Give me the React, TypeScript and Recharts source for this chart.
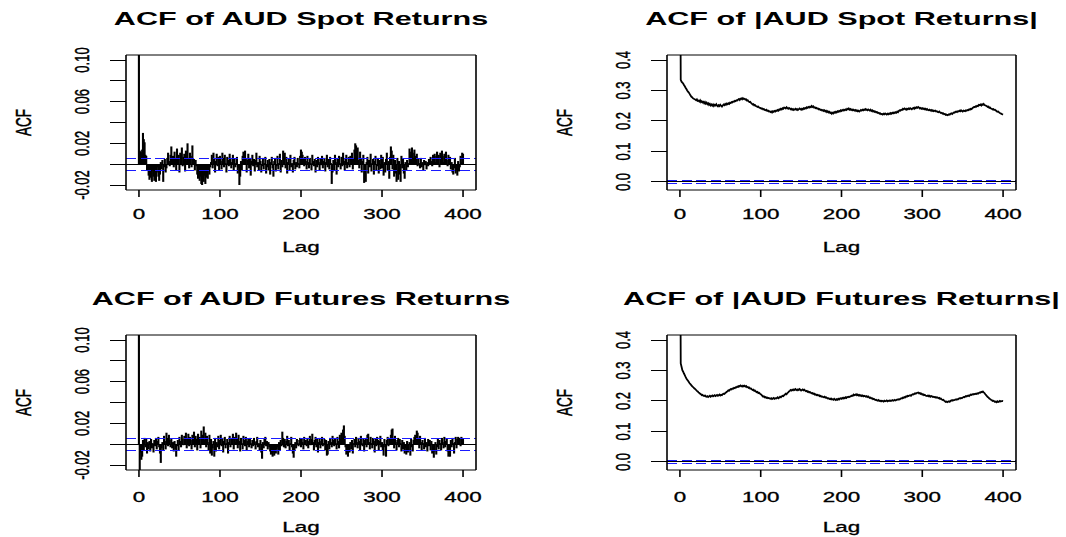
import React from "react";
import { ComposedChart, XAxis, YAxis, Bar, Line, ReferenceLine } from "recharts";

// Sample ACF by lag (0..400), stored in units of 0.001
const spotReturnsAcf: number[] = [
  1000, 13, 12, 11, 14, 30, 24, 21, 9, 8, -6, -4, -11, -15, -9, -13, -17, -6, -12, -16,
  -14, -17, -8, -3, -12, -16, -10, 2, -5, 4, -17, -3, 5, -8, -4, 6, 11, 3, -2, 9,
  17, 4, 8, -3, 12, 6, -6, 15, 2, 9, -8, 11, 5, 16, -2, 7, 10, -7, 13, 3,
  20, 6, -4, 11, 8, -3, 18, 2, 5, -6, 4, -2, -10, -14, -8, -16, -12, -19, -20, -15,
  -17, -11, -19, -13, -8, -14, -6, -10, -3, 2, 9, -4, 11, 5, -8, 3, 10, -2, 7, -6,
  8, 3, -5, 11, 6, -3, 9, 1, -8, 7, 4, -2, 10, 6, -4, 2, 9, -6, 5, -3,
  1, 7, -9, -4, -20, -12, 3, -6, 8, 12, 2, 13, 5, -8, 4, 10, -4, 6, -11, 3,
  9, -2, 5, -7, 4, 11, -3, 2, -6, 8, 3, -8, -2, 6, -5, 1, 7, -9, -3, 4,
  -6, 5, -10, 2, 7, -4, -12, 3, 6, -7, -2, 8, -5, 1, 10, -8, 4, -3, 13, 6,
  11, -4, 7, -9, 2, 5, -6, 9, -3, 1, -8, 4, 7, -5, 2, -3, 6, 1, -4, 8,
  14, 12, 9, 5, -2, 7, 3, -5, 8, 2, -4, 6, 1, -6, 9, 3, -2, 5, -8, 4,
  -3, 7, 2, -6, 5, -1, 8, -4, 3, 6, -7, 2, 9, -3, 5, -5, 7, 1, -19, -8,
  4, -6, 9, 2, -10, 6, -3, 8, 1, -5, 7, -2, 11, 3, -6, 5, 9, -4, 2, 7,
  -3, 8, 1, 11, -5, 6, 14, 20, 18, 9, 16, 4, -4, 12, 6, -8, 3, 9, -18, -6,
  -17, 2, 7, -9, 4, -3, 10, -7, 1, 5, -10, 3, 8, -6, -2, 6, -9, 4, -5, 9,
  -4, 7, -11, 2, -8, 5, 11, -6, 3, -14, 7, 17, 13, -5, 9, -12, 4, -9, -17, 6,
  -15, 3, -10, -17, 8, -4, 5, -9, -14, 2, -6, 4, -3, 1, 15, 9, 12, 16, 11, 6,
  14, 8, 3, 10, -2, 5, 1, -4, 6, -3, 2, -6, 4, -1, 3, -5, 2, -2, 5, 1,
  7, 3, -2, 9, 5, 10, 2, 8, 12, 4, 9, -3, 11, 6, 13, 8, 2, 10, 5, 12,
  4, -2, 9, 3, 7, -5, 2, -8, -10, -4, 6, -9, -6, -11, 3, -7, -3, 8, 2, 11,
  10,
];

const spotAbsAcf: number[] = [
  1000, 335, 329, 326, 323, 318, 314, 309, 305, 300, 296, 293, 289, 284, 280, 278, 275, 273, 272, 270,
  268, 271, 266, 267, 264, 268, 262, 265, 261, 263, 258, 262, 257, 260, 255, 258, 253, 256, 251, 254,
  250, 254, 249, 253, 251, 255, 250, 248, 252, 249, 253, 250, 247, 251, 254, 252, 256, 253, 257, 255,
  258, 256, 260, 259, 262, 261, 264, 263, 266, 265, 268, 267, 270, 272, 269, 273, 274, 271, 275, 272,
  273, 270, 271, 267, 268, 264, 262, 263, 259, 257, 254, 255, 251, 252, 249, 248, 246, 247, 244, 243,
  242, 240, 241, 238, 239, 236, 235, 237, 233, 234, 231, 232, 229, 231, 228, 232, 230, 233, 231, 234,
  233, 236, 234, 238, 237, 240, 238, 242, 240, 244, 243, 241, 245, 242, 240, 243, 241, 238, 240, 237,
  239, 236, 238, 240, 237, 239, 236, 238, 241, 239, 237, 240, 238, 242, 240, 243, 241, 245, 243, 246,
  244, 247, 245, 249, 246, 248, 244, 245, 242, 243, 240, 241, 238, 239, 236, 237, 234, 236, 233, 235,
  231, 233, 229, 232, 228, 230, 226, 228, 224, 227, 225, 229, 227, 230, 228, 232, 230, 233, 231, 235,
  233, 236, 234, 237, 235, 238, 236, 240, 238, 241, 237, 239, 236, 238, 235, 237, 234, 236, 233, 235,
  232, 234, 231, 233, 236, 234, 237, 235, 238, 236, 239, 237, 235, 238, 236, 234, 237, 233, 235, 231,
  233, 230, 231, 228, 229, 226, 227, 224, 225, 222, 223, 221, 224, 222, 225, 223, 221, 224, 222, 225,
  223, 226, 224, 227, 225, 228, 226, 229, 227, 231, 229, 233, 235, 234, 237, 236, 240, 238, 241, 239,
  237, 240, 238, 241, 239, 242, 240, 238, 241, 243, 240, 244, 242, 245, 243, 246, 244, 241, 243, 240,
  242, 239, 241, 238, 240, 237, 239, 236, 235, 237, 234, 236, 233, 235, 232, 233, 234, 231, 232, 230,
  229, 231, 228, 226, 227, 224, 225, 222, 223, 220, 221, 219, 220, 222, 221, 224, 225, 223, 226, 228,
  227, 230, 231, 229, 232, 231, 234, 232, 235, 233, 231, 234, 233, 232, 235, 234, 236, 235, 238, 237,
  240, 239, 242, 244, 246, 245, 248, 247, 250, 249, 253, 252, 254, 251, 255, 253, 256, 252, 251, 250,
  248, 246, 247, 243, 244, 241, 240, 238, 239, 236, 237, 235, 232, 230, 231, 228, 226, 225, 223, 222,
  221,
];

const futuresReturnsAcf: number[] = [
  1000, -26, -8, -15, -12, 4, -6, 6, -3, 5, -9, 2, -5, 3, -7, 5, -4, 1, -8, 4,
  -2, 6, -5, 3, 7, -3, -9, -18, -4, 2, -6, 8, 3, -5, 11, 6, -2, 9, 4, -3,
  5, -4, 2, -7, 3, -5, -12, -2, 4, -6, 7, 3, -3, 9, 5, -1, 8, 2, 11, -4,
  6, 10, -2, 7, 4, -5, 9, 3, 12, -3, 8, 5, -6, 10, 2, 7, -4, 13, 6, 9,
  17, 4, 11, -3, 8, 2, -6, 9, -9, 5, -11, -4, 3, -12, 6, -7, 2, -3, 8, -5,
  4, 9, -2, 6, -8, 3, 7, -4, 1, 5, -9, 2, 8, -3, 6, 4, 10, -5, 7, 2,
  11, 5, -4, 9, 3, -7, 6, 1, -5, 8, 4, -2, 7, -6, 3, 5, -3, 6, 1, -4,
  4, -2, 6, 2, -5, 3, 7, -3, 1, -6, 4, -8, -14, 2, -4, 5, 7, -2, 3, -5,
  2, -3, -7, -10, -4, -12, -8, -11, -6, -9, -5, -3, -10, 2, -6, 4, -2, 12, 6, -3,
  5, -4, 3, 8, -2, 4, -6, 1, 7, -3, -9, -13, -6, 2, -4, 5, 1, -2, 4, 6,
  -3, 5, 2, -5, 7, 1, 4, -2, 6, -4, 3, 8, -1, 5, 10, 2, -6, 4, 7, -3,
  5, -8, 2, 6, -4, 3, 7, -2, 1, 5, -6, 4, -11, -10, 3, -5, 6, 2, -3, 8,
  4, -2, 6, 1, -5, 7, 3, -4, 9, 5, 11, 6, 14, 18, 8, -3, -10, -6, -12, -4,
  -8, 2, -5, 4, -9, 1, 5, -3, 7, 2, -4, 6, 3, -6, 8, 1, -2, 5, -7, 4,
  6, -3, 9, 10, 2, -5, 7, 1, -4, 6, 3, -8, 5, -2, 7, 4, -6, 3, 8, -3,
  2, -6, -11, 5, -3, -12, 4, 7, -2, 6, 3, 9, 14, 15, 5, -4, 8, 2, -6, 4,
  6, -3, 5, 1, -7, 4, -5, 2, -9, -4, -10, 3, -8, -6, 2, -11, 5, -3, -7, 4,
  7, 9, 3, 13, 11, 5, -4, 8, 2, -6, 4, 1, -5, 6, -3, 2, -7, 5, -2, 4,
  -6, 3, -9, -4, -13, -7, 2, -10, -3, 5, -5, 4, 1, -6, 6, 2, -4, 7, -3, 3,
  5, -7, -12, -5, -12, 4, -3, 6, 1, -9, 2, 7, -4, 5, 7, 3, 6, -2, 7, 6,
  5,
];

const futuresAbsAcf: number[] = [
  1000, 323, 312, 301, 296, 290, 285, 279, 274, 270, 266, 262, 258, 255, 252, 249, 246, 244, 241, 239,
  236, 233, 231, 228, 226, 224, 222, 219, 220, 217, 216, 218, 215, 214, 216, 213, 215, 217, 214, 216,
  218, 215, 217, 219, 216, 218, 220, 217, 219, 221, 218, 220, 219, 222, 224, 223, 226, 228, 230, 232,
  235, 234, 237, 239, 238, 241, 240, 243, 242, 245, 244, 247, 246, 249, 248, 251, 249, 247, 250, 248,
  250, 247, 249, 245, 246, 243, 244, 240, 241, 238, 236, 237, 233, 234, 231, 229, 230, 226, 227, 224,
  222, 220, 217, 214, 215, 212, 213, 210, 211, 209, 210, 208, 207, 209, 206, 208, 210, 207, 209, 208,
  210, 212, 209, 211, 214, 212, 215, 217, 216, 219, 221, 224, 222, 226, 228, 231, 233, 236, 234, 237,
  235, 238, 236, 239, 237, 235, 238, 236, 239, 237, 234, 236, 238, 235, 237, 234, 232, 233, 230, 231,
  228, 229, 227, 225, 226, 223, 224, 221, 222, 219, 220, 218, 219, 216, 217, 214, 215, 213, 212, 214,
  211, 212, 210, 208, 209, 207, 206, 208, 205, 206, 204, 207, 205, 203, 206, 204, 207, 205, 208, 209,
  207, 210, 208, 211, 209, 212, 210, 213, 212, 214, 213, 215, 216, 218, 217, 221, 219, 220, 222, 219,
  221, 218, 220, 217, 219, 216, 218, 215, 217, 216, 214, 216, 213, 215, 212, 210, 211, 208, 209, 206,
  207, 205, 203, 204, 202, 201, 203, 200, 201, 199, 201, 200, 198, 201, 199, 200, 202, 199, 201, 200,
  202, 200, 201, 203, 201, 202, 204, 202, 203, 205, 204, 206, 205, 207, 209, 208, 211, 210, 213, 212,
  215, 214, 217, 216, 218, 219, 217, 220, 222, 221, 223, 225, 224, 226, 227, 228, 225, 226, 223, 224,
  221, 222, 219, 220, 218, 217, 216, 218, 215, 217, 214, 216, 215, 213, 214, 212, 213, 211, 212, 211,
  209, 210, 207, 208, 205, 203, 204, 201, 199, 197, 198, 196, 198, 199, 197, 200, 202, 201, 203, 202,
  203, 205, 204, 206, 205, 207, 209, 208, 210, 209, 211, 213, 212, 214, 216, 215, 217, 218, 216, 219,
  221, 220, 222, 221, 223, 222, 224, 223, 225, 224, 226, 228, 227, 230, 229, 231, 228, 226, 222, 219,
  216, 213, 211, 208, 206, 204, 203, 200, 201, 199, 197, 198, 196, 199, 197, 198, 200, 198, 199, 200,
  199,
];

const lagTicks = [0, 100, 200, 300, 400];
const returnTicks = [-0.02, 0, 0.02, 0.04, 0.06, 0.08, 0.1];
const returnTickLabels = [-0.02, 0.02, 0.06, 0.1];
const absTicks = [0, 0.1, 0.2, 0.3, 0.4];

// 95% bounds, +/- 1.96 / sqrt(n)
const CONF = 0.0059;

const LAG_DOMAIN: [number, number] = [-16, 416];
const RETURN_DOMAIN: [number, number] = [-0.0248, 0.1048];
const ABS_DOMAIN: [number, number] = [-0.0264, 0.4164];

const INK = "#000";
const BLUE = "#1a1aff";
const FONT = '"Liberation Sans", Arial, Helvetica, sans-serif';
const SX = 1.6;

type STextProps = {
  x: number;
  y: number;
  size?: number;
  bold?: boolean;
  vertical?: boolean;
  sx?: number;
  children: React.ReactNode;
};

// text widened horizontally, like the rest of the device output
function SText({ x, y, size = 14, bold = false, vertical = false, sx = SX, children }: STextProps) {
  const t = `translate(${x},${y}) scale(${sx},1)${vertical ? " rotate(-90)" : ""}`;
  return (
    <text
      transform={t}
      textAnchor="middle"
      dy="0.35em"
      fontSize={size}
      fontWeight={bold ? 700 : 400}
      fontFamily={FONT}
      fill={INK}
      stroke={bold ? "none" : INK}
      strokeWidth={bold ? 0 : 0.3}
    >
      {children}
    </text>
  );
}

function Stick(p: any) {
  if (p.x == null || p.y == null) return <g />;
  const cx = p.x + (p.width || 0) / 2;
  return <line x1={cx} x2={cx} y1={p.y} y2={p.y + p.height} stroke={INK} strokeWidth={2.1} />;
}

type Box = { l: number; t: number; r: number; b: number };

type PanelProps = {
  title: string;
  values: number[];
  kind: "bars" | "line";
  left: number;
  top: number;
  width: number;
  height: number;
  box: Box;
  xTickGap: number;
};

function AcfPanel({ title, values, kind, left, top, width, height, box, xTickGap }: PanelProps) {
  const rows = values.map((v, lag) => ({ lag, acf: v / 1000 }));
  const isBars = kind === "bars";
  const yDomain = isBars ? RETURN_DOMAIN : ABS_DOMAIN;
  const yTicks = isBars ? returnTicks : absTicks;
  const xAxisH = 40;

  const yTick = (p: any) => {
    const v = p.payload.value as number;
    if (isBars && !returnTickLabels.some((t) => Math.abs(t - v) < 1e-9)) return <g />;
    return (
      <SText x={p.x} y={p.y} size={13} vertical>
        {isBars ? v.toFixed(2) : v.toFixed(1)}
      </SText>
    );
  };

  const xTick = (p: any) => (
    <SText x={p.x} y={p.y} size={14}>
      {p.payload.value}
    </SText>
  );

  return (
    <div style={{ position: "absolute", left, top, width, height }}>
      <ComposedChart
        width={width}
        height={height}
        data={rows}
        margin={{ top: box.t, right: width - box.r, bottom: height - box.b - xAxisH, left: 0 }}
      >
        <XAxis
          type="number"
          dataKey="lag"
          domain={LAG_DOMAIN}
          ticks={lagTicks}
          allowDataOverflow
          interval={0}
          height={xAxisH}
          axisLine={false}
          tickSize={7}
          tickMargin={xTickGap}
          tickLine={{ stroke: INK, strokeWidth: 1.6 }}
          tick={xTick}
        />
        <YAxis
          type="number"
          domain={yDomain}
          ticks={yTicks}
          allowDataOverflow
          interval={0}
          width={box.l}
          axisLine={false}
          tickSize={16}
          tickMargin={28}
          tickLine={{ stroke: INK, strokeWidth: 1, shapeRendering: "crispEdges" }}
          tick={yTick}
        />
        <ReferenceLine y={0} stroke={INK} strokeWidth={1} shapeRendering="crispEdges" />
        <ReferenceLine
          y={CONF}
          stroke={BLUE}
          strokeWidth={1}
          strokeDasharray="10 4.5"
          shapeRendering="crispEdges"
        />
        <ReferenceLine
          y={-CONF}
          stroke={BLUE}
          strokeWidth={1}
          strokeDasharray="10 4.5"
          shapeRendering="crispEdges"
        />
        {isBars ? (
          <Bar dataKey="acf" barSize={2} shape={Stick} isAnimationActive={false} />
        ) : (
          <Line
            type="linear"
            dataKey="acf"
            stroke={INK}
            strokeWidth={1.8}
            dot={false}
            isAnimationActive={false}
          />
        )}
        {/* plot frame */}
        <ReferenceLine x={LAG_DOMAIN[0]} stroke={INK} strokeWidth={1.6} ifOverflow="visible" />
        <ReferenceLine x={LAG_DOMAIN[1]} stroke={INK} strokeWidth={1.6} ifOverflow="visible" />
        <ReferenceLine y={yDomain[0]} stroke={INK} strokeWidth={1} ifOverflow="visible" />
        <ReferenceLine y={yDomain[1]} stroke={INK} strokeWidth={1} ifOverflow="visible" />
      </ComposedChart>
      <svg
        width={width}
        height={height}
        style={{ position: "absolute", left: 0, top: 0, pointerEvents: "none" }}
      >
        <SText x={(box.l + box.r) / 2} y={box.t - 36.5} size={18} bold sx={1.7}>
          {title}
        </SText>
        <SText x={(box.l + box.r) / 2} y={box.b + 57} size={14}>
          Lag
        </SText>
        <SText x={box.l - 103} y={(box.t + box.b) / 2} size={13.5} vertical>
          ACF
        </SText>
      </svg>
    </div>
  );
}

export default function App() {
  const leftBox = { l: 126, r: 476 };
  const rightBox = { l: 134, r: 483 };
  return (
    <div
      style={{
        position: "absolute",
        left: 0,
        top: 0,
        width: 1066,
        height: 537,
        background: "#fff",
        overflow: "hidden",
      }}
    >
      <AcfPanel
        title="ACF of AUD Spot Returns"
        values={spotReturnsAcf}
        kind="bars"
        left={0}
        top={0}
        width={533}
        height={268}
        box={{ ...leftBox, t: 55, b: 190 }}
        xTickGap={17}
      />
      <AcfPanel
        title="ACF of |AUD Spot Returns|"
        values={spotAbsAcf}
        kind="line"
        left={533}
        top={0}
        width={533}
        height={268}
        box={{ ...rightBox, t: 55, b: 190 }}
        xTickGap={17}
      />
      <AcfPanel
        title="ACF of AUD Futures Returns"
        values={futuresReturnsAcf}
        kind="bars"
        left={0}
        top={268}
        width={533}
        height={269}
        box={{ ...leftBox, t: 67, b: 202 }}
        xTickGap={20}
      />
      <AcfPanel
        title="ACF of |AUD Futures Returns|"
        values={futuresAbsAcf}
        kind="line"
        left={533}
        top={268}
        width={533}
        height={269}
        box={{ ...rightBox, t: 67, b: 202 }}
        xTickGap={20}
      />
    </div>
  );
}
